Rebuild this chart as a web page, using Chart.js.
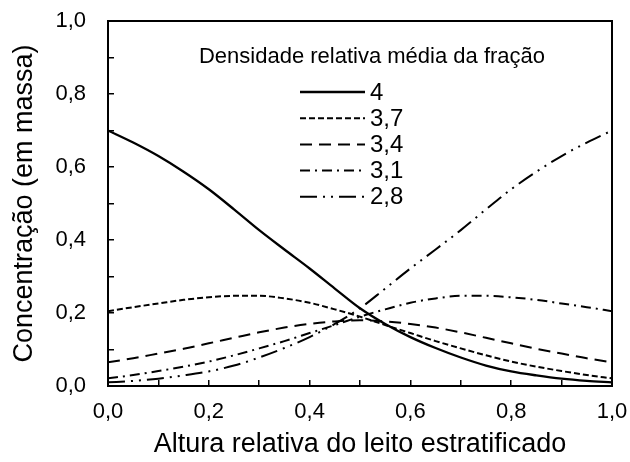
<!DOCTYPE html>
<html>
<head>
<meta charset="utf-8">
<script src="https://cdn.jsdelivr.net/npm/chart.js@4.4.1/dist/chart.umd.min.js"></script>
<style>
  html, body { margin: 0; padding: 0; background: #fff; }
</style>
</head>
<body>
<canvas id="chart" width="630" height="462"></canvas>
<script>
const FONT = '"Liberation Sans", Arial, sans-serif';

// Altura relativa do leito (eixo x)
const alturas = [0, 0.05, 0.1, 0.15, 0.2, 0.25, 0.3, 0.35, 0.4, 0.45, 0.5,
                 0.55, 0.6, 0.65, 0.7, 0.75, 0.8, 0.85, 0.9, 0.95, 1];

const densidades = ['4', '3,7', '3,4', '3,1', '2,8'];

// Concentração, uma lista por fração
const conc40 = [0.700, 0.667, 0.630, 0.587, 0.539, 0.484, 0.427, 0.374, 0.322, 0.267, 0.213,
                0.170, 0.134, 0.104, 0.078, 0.056, 0.040, 0.029, 0.020, 0.014, 0.010];
const conc37 = [0.205, 0.216, 0.226, 0.236, 0.243, 0.247, 0.247, 0.240, 0.228, 0.210, 0.190,
                0.167, 0.145, 0.123, 0.103, 0.084, 0.067, 0.053, 0.041, 0.030, 0.021];
const conc34 = [0.065, 0.076, 0.089, 0.102, 0.117, 0.132, 0.147, 0.160, 0.170, 0.177, 0.180,
                0.177, 0.170, 0.160, 0.147, 0.132, 0.117, 0.102, 0.089, 0.076, 0.065];
const conc31 = [0.021, 0.030, 0.041, 0.053, 0.067, 0.084, 0.103, 0.123, 0.145, 0.167, 0.190,
                0.210, 0.228, 0.240, 0.247, 0.247, 0.243, 0.236, 0.226, 0.216, 0.205];
const conc28 = [0.010, 0.014, 0.020, 0.029, 0.040, 0.056, 0.078, 0.104, 0.134, 0.170, 0.213,
                0.267, 0.322, 0.374, 0.427, 0.484, 0.539, 0.587, 0.630, 0.667, 0.700];

const xTickLabels = ['0,0', '0,2', '0,4', '0,6', '0,8', '1,0'];
const yTickLabels = ['0,0', '0,2', '0,4', '0,6', '0,8', '1,0'];

const series = [conc40, conc37, conc34, conc31, conc28];
const dashes = [[], [6, 3], [12, 7], [10, 5, 2, 5], [17, 6, 2, 6, 2, 6]];

const datasets = series.map((vals, i) => ({
    label: densidades[i],
    data: alturas.map((x, j) => ({ x: x, y: vals[j] })),
    borderColor: '#000',
    borderWidth: i === 0 ? 2.3 : 2,
    borderDash: dashes[i],
    pointRadius: 0,
    fill: false,
    cubicInterpolationMode: 'monotone'
}));

// tamanho fixo das escalas, sem o recuo extra dos rótulos
function fixScale(s, key, size) {
    s[key] = size;
    s.paddingTop = 0;
    s.paddingBottom = 0;
    s.paddingLeft = 0;
    s.paddingRight = 0;
}

// moldura completa em volta da área do gráfico
const framePlugin = {
    id: 'frame',
    afterDraw(chart) {
        const { ctx, chartArea: a } = chart;
        ctx.save();
        ctx.strokeStyle = '#000';
        ctx.lineWidth = 2;
        ctx.strokeRect(a.left, a.top, a.right - a.left, a.bottom - a.top);
        ctx.restore();
    }
};

// legenda dentro do gráfico, com título
const legendPlugin = {
    id: 'insideLegend',
    afterDraw(chart) {
        const { ctx, chartArea: a } = chart;
        ctx.save();
        ctx.fillStyle = '#000';
        ctx.font = '22px ' + FONT;
        ctx.textAlign = 'center';
        ctx.textBaseline = 'middle';
        ctx.fillText('Densidade relativa média da fração', a.left + 264, a.top + 36);

        ctx.font = '24px ' + FONT;
        ctx.textAlign = 'left';
        chart.data.datasets.forEach((ds, i) => {
            const y = a.top + 71 + i * 26.2;
            ctx.beginPath();
            ctx.setLineDash(ds.borderDash);
            ctx.lineWidth = ds.borderWidth;
            ctx.strokeStyle = '#000';
            ctx.moveTo(a.left + 192, y);
            ctx.lineTo(a.left + 257, y);
            ctx.stroke();
            ctx.setLineDash([]);
            ctx.fillText(ds.label, a.left + 262, y + 1);
        });
        ctx.restore();
    }
};

new Chart(document.getElementById('chart'), {
    type: 'line',
    data: { datasets: datasets },
    options: {
        responsive: false,
        animation: false,
        layout: { padding: { top: 21, right: 18, left: 0, bottom: 0 } },
        plugins: {
            legend: { display: false },
            tooltip: { enabled: false }
        },
        scales: {
            x: {
                type: 'linear',
                min: 0,
                max: 1,
                afterFit: s => fixScale(s, 'height', 76),
                border: { display: true, color: '#000', width: 2 },
                grid: { drawOnChartArea: false, drawTicks: true, tickLength: -6, color: '#000', lineWidth: 1.5 },
                ticks: {
                    stepSize: 0.1,
                    autoSkip: false,
                    maxRotation: 0,
                    padding: 19,
                    color: '#000',
                    font: { size: 22, family: FONT },
                    callback: (v, i) => i % 2 === 0 ? xTickLabels[i / 2] : ''
                },
                title: {
                    display: true,
                    text: 'Altura relativa do leito estratificado',
                    color: '#000',
                    font: { size: 27, family: FONT },
                    padding: { top: 0, bottom: 1 }
                }
            },
            y: {
                min: 0,
                max: 1,
                afterFit: s => fixScale(s, 'width', 108),
                border: { display: true, color: '#000', width: 2 },
                grid: { drawOnChartArea: false, drawTicks: true, tickLength: -6, color: '#000', lineWidth: 1.5 },
                ticks: {
                    stepSize: 0.1,
                    autoSkip: false,
                    padding: 28,
                    color: '#000',
                    font: { size: 22, family: FONT },
                    callback: (v, i) => i % 2 === 0 ? yTickLabels[i / 2] : ''
                },
                title: {
                    display: true,
                    text: 'Concentração (em massa)',
                    color: '#000',
                    font: { size: 27, family: FONT },
                    padding: { top: 8, bottom: 0 }
                }
            }
        }
    },
    plugins: [framePlugin, legendPlugin]
});
</script>
</body>
</html>
